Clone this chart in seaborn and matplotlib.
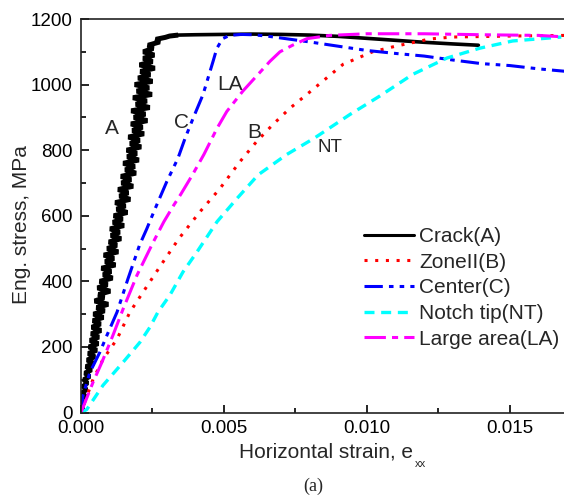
import matplotlib
matplotlib.use("Agg")
import matplotlib.pyplot as plt
import seaborn as sns
import pandas as pd

# ---------------- data ----------------
# strain values are in units of 1e-3, stress in MPa
# Crack (A): noisy band traced as an irregular zig-zag, then the plateau
crack_stress = [0, 10, 20, 30, 40, 50, 60, 70, 80, 90,
                100, 110, 120, 130, 140, 150, 160, 170, 180, 190,
                200, 210, 220, 230, 240, 250, 260, 270, 280, 290,
                300, 310, 320, 330, 340, 350, 360, 370, 380, 390,
                400, 410, 420, 430, 440, 450, 460, 470, 480, 490,
                500, 510, 520, 530, 540, 550, 560, 570, 580, 590,
                600, 610, 620, 630, 640, 650, 660, 670, 680, 690,
                700, 710, 720, 730, 740, 750, 760, 770, 780, 790,
                800, 810, 820, 830, 840, 850, 860, 870, 880, 890,
                900, 910, 920, 930, 940, 950, 960, 970, 980, 990,
                1000, 1010, 1020, 1030, 1040, 1050, 1060, 1070, 1080, 1090,
                1100, 1110, 1120, 1130, 1138, 1144, 1148, 1151,
                1152, 1153, 1154, 1153, 1151, 1147, 1141, 1135, 1129, 1124, 1120]
crack_strain = [0.00, 0.06, 0.00, 0.10, 0.02, 0.14, 0.05, 0.18, 0.08, 0.22,
                0.10, 0.30, 0.14, 0.36, 0.18, 0.44, 0.22, 0.48, 0.26, 0.55,
                0.28, 0.60, 0.32, 0.62, 0.36, 0.70, 0.38, 0.68, 0.42, 0.78,
                0.44, 0.82, 0.55, 0.95, 0.48, 0.80, 0.62, 1.02, 0.58, 0.92,
                0.66, 1.10, 0.78, 1.05, 0.72, 1.20, 0.85, 1.15, 0.80, 1.30,
                0.92, 1.25, 0.98, 1.40, 1.05, 1.35, 1.02, 1.50, 1.12, 1.45,
                1.15, 1.62, 1.25, 1.55, 1.20, 1.72, 1.35, 1.65, 1.30, 1.82,
                1.42, 1.75, 1.40, 1.92, 1.55, 1.88, 1.48, 2.02, 1.62, 1.95,
                1.60, 2.10, 1.72, 2.05, 1.66, 2.20, 1.80, 2.15, 1.75, 2.32,
                1.85, 2.25, 1.76, 2.40, 1.92, 2.30, 1.82, 2.48, 1.95, 2.38,
                1.88, 2.50, 2.00, 2.42, 2.08, 2.58, 2.05, 2.50, 2.18, 2.56,
                2.18, 2.52, 2.35, 2.75, 2.62, 2.95, 3.10, 3.40,
                4.0, 5.0, 6.0, 7.0, 8.0, 9.0, 10.0, 11.0, 12.0, 13.0, 13.9]
crack_rise_end = 118   # number of points in the noisy loading part

zone_stress = [0, 101, 162, 224, 306, 367, 450, 530, 612, 683, 765, 827, 878, 928, 970,
               1062, 1100, 1117, 1139, 1145, 1148, 1150]
zone_strain = [0.0, 0.42, 0.77, 1.26, 1.71, 2.17, 2.80, 3.42, 4.16, 4.86, 5.56, 6.15,
               6.71, 7.31, 7.90, 9.17, 10.2, 11.0, 12.2, 13.0, 15.0, 17.0]

center_stress = [0, 52, 122, 184, 236, 306, 407, 511, 560, 621, 704, 775, 836, 897, 970,
                 1071, 1110, 1140, 1150, 1153, 1152, 1148, 1142, 1130, 1117, 1104, 1095,
                 1087, 1075, 1064, 1058, 1048, 1040]
center_strain = [0.0, 0.07, 0.31, 0.66, 0.91, 1.26, 1.64, 2.05, 2.30, 2.59, 3.00, 3.39,
                 3.64, 3.92, 4.27, 4.62, 4.75, 4.95, 5.2, 5.6, 6.0, 6.5, 7.0, 8.0, 9.0,
                 10.0, 11.0, 12.0, 13.0, 14.0, 15.0, 16.0, 17.0]

notch_stress = [0, 9, 83, 153, 214, 260, 306, 358, 429, 490, 582, 652, 725, 787, 836,
                909, 965, 1031, 1081, 1111, 1133, 1145]
notch_strain = [0.0, 0.20, 0.77, 1.47, 2.06, 2.41, 2.69, 3.11, 3.57, 4.06, 4.76, 5.45,
                6.20, 7.20, 8.15, 9.41, 10.45, 11.6, 12.8, 13.95, 15.1, 16.8]

large_stress = [0, 92, 153, 236, 315, 419, 515, 582, 633, 664, 725, 787, 867, 918, 980,
                1071, 1100, 1120, 1140, 1150, 1155, 1155, 1152, 1150, 1145]
large_strain = [0.0, 0.42, 0.73, 1.12, 1.47, 1.96, 2.50, 2.90, 3.25, 3.48, 3.90, 4.30,
                4.76, 5.10, 5.66, 6.61, 6.96, 7.40, 7.90, 8.70, 10.0, 12.0, 14.0, 16.0, 17.0]

series_names = ["Crack(A)", "ZoneII(B)", "Center(C)", "Notch tip(NT)", "Large area(LA)"]
x_ticks = [0.000, 0.005, 0.010, 0.015]
y_ticks = [0, 200, 400, 600, 800, 1000, 1200]

# ---------------- plotting ----------------
sns.set_style("ticks")
plt.rcParams["font.family"] = ["Liberation Sans", "DejaVu Sans"]

fig = plt.figure(figsize=(5.64, 4.99), dpi=100)
ax = fig.add_axes([81 / 564, 86.5 / 499, 486 / 564, 393.5 / 499])

def df(strain, stress):
    return pd.DataFrame({"x": [v * 1e-3 for v in strain], "y": stress})

# Crack(A): thick noisy loading band + thinner plateau
sns.lineplot(data=df(crack_strain[:crack_rise_end], crack_stress[:crack_rise_end]),
             x="x", y="y", sort=False, estimator=None, color="black", linestyle="-",
             linewidth=3.6, solid_joinstyle="bevel", solid_capstyle="butt", ax=ax)
sns.lineplot(data=df(crack_strain[crack_rise_end - 1:], crack_stress[crack_rise_end - 1:]),
             x="x", y="y", sort=False, estimator=None, color="black", linestyle="-",
             linewidth=2.6, label=series_names[0], ax=ax)

styles = [
    (zone_strain, zone_stress, "red", (0, (1, 2.5)), 2.2),
    (center_strain, center_stress, "blue", (0, (6, 2, 1.5, 2, 1.5, 2)), 2.2),
    (notch_strain, notch_stress, "cyan", (0, (3, 2)), 2.4),
    (large_strain, large_stress, "magenta", (0, (7, 2, 2, 2)), 2.2),
]
for (sx, sy, col, ls, lw), name in zip(styles, series_names[1:]):
    sns.lineplot(data=df(sx, sy), x="x", y="y", sort=False, estimator=None, color=col,
                 linestyle=ls, linewidth=lw, label=name, ax=ax)

ax.set_xlim(0, 0.017)
ax.set_ylim(0, 1200)
ax.set_xticks(x_ticks)
ax.set_xticklabels([f"{v:.3f}" for v in x_ticks])
ax.set_yticks(y_ticks)
ax.set_xticks([0.0025, 0.0075, 0.0125], minor=True)
ax.set_yticks([100, 300, 500, 700, 900, 1100], minor=True)
ax.tick_params(which="both", direction="in", labelsize=13.5, colors="black")
ax.tick_params(which="major", length=6, width=1.2)
ax.tick_params(which="minor", length=3.5, width=1.2)
ax.tick_params(axis="x", which="major", pad=5.5)
ax.tick_params(axis="y", which="major", pad=6)
for s in ["left", "bottom", "top"]:
    ax.spines[s].set_linewidth(1.2)
    ax.spines[s].set_color("#222222")
ax.spines["right"].set_visible(False)

ax.set_xlabel("")
ax.set_ylabel("Eng. stress, MPa", fontsize=15)
ax.yaxis.set_label_coords(-0.103, (412.5 - 224.5) / 393.5)

# x label with small subscript, as in the reference
fig.text(239 / 564, (499 - 458) / 499, "Horizontal strain, e", fontsize=15,
         ha="left", va="baseline")
fig.text(415 / 564, (499 - 467) / 499, "xx", fontsize=8, ha="left", va="baseline")

# curve labels
ax.text(0.00108, 865, "A", fontsize=15, ha="center", va="center")
ax.text(0.00353, 883, "C", fontsize=15, ha="center", va="center")
ax.text(0.00521, 999, "LA", fontsize=15, ha="center", va="center")
ax.text(0.00605, 855, "B", fontsize=15, ha="center", va="center")
ax.text(0.00871, 807, "NT", fontsize=13.5, ha="center", va="center")

leg = ax.legend(loc="upper left", bbox_to_anchor=((364 - 81) / 486, (412.5 - 227) / 393.5),
                frameon=False, fontsize=15, handlelength=2.38, handletextpad=0.26,
                labelspacing=0.32, borderaxespad=0, borderpad=0)
leg.get_lines()[0].set_linewidth(2.2)

fig.text(313 / 564, (499 - 486) / 499, "(a)", ha="center", va="center", fontsize=13,
         family=["Liberation Serif", "DejaVu Serif"])

fig.savefig("out.png", dpi=100)
